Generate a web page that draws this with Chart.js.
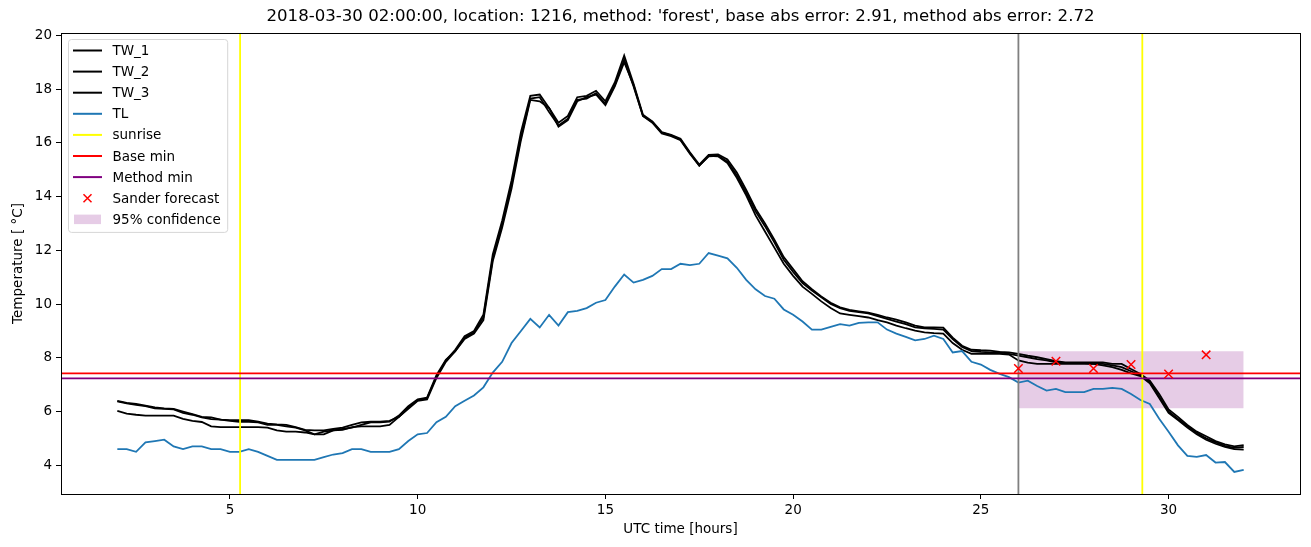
<!DOCTYPE html>
<html>
<head>
<meta charset="utf-8">
<script src="https://cdn.jsdelivr.net/npm/chart.js@4.4.1/dist/chart.umd.min.js"></script>
<style>
  html, body { margin: 0; padding: 0; background: #fff; }
  #wrap { width: 1311px; height: 547px; position: relative; }
</style>
</head>
<body>
<div id="wrap"><canvas id="grafico"></canvas></div>
<script>
// Tijdas: elk kwartier van 2 tot 32 uur UTC
const startUur = 2;
const stapUur = 0.25;
const aantal = 121;
const hours = Array.from({ length: aantal }, (_, i) => startUur + i * stapUur);

// Temperaturen, 4 waarden per uur
const tw1 = [
  6.4, 6.32, 6.28, 6.22,  6.15, 6.12, 6.1, 6.0,  5.9, 5.8, 5.78, 5.7,  5.68, 5.68, 5.68, 5.62,
  5.55, 5.52, 5.5, 5.42,  5.32, 5.3, 5.3, 5.35,  5.4, 5.5, 5.6, 5.62,  5.62, 5.65, 5.8, 6.15,
  6.42, 6.5, 7.3, 7.9,  8.3, 8.8, 9.0, 9.6,  11.85, 13.1, 14.6, 16.4,  17.75, 17.8, 17.3, 16.75,
  17.0, 17.7, 17.75, 17.94,  17.55, 18.25, 19.25, 18.2,  17.05, 16.8, 16.4, 16.3,  16.15, 15.65, 15.19, 15.55,
  15.57, 15.38, 14.9, 14.25,  13.55, 13.0, 12.4, 11.75,  11.3, 10.85, 10.55, 10.28,  10.05, 9.88, 9.78, 9.73,
  9.68, 9.6, 9.5, 9.42,  9.32, 9.2, 9.13, 9.13,  9.12, 8.75, 8.45, 8.3,  8.28, 8.27, 8.22, 8.2,
  8.15, 8.08, 8.02, 7.95,  7.88, 7.83, 7.83, 7.83,  7.83, 7.83, 7.77, 7.77,  7.58, 7.4, 7.15, 6.65,
  6.08, 5.8, 5.5, 5.25,  5.08, 4.9, 4.78, 4.7,  4.75
];
const tw2 = [
  6.38, 6.3, 6.25, 6.2,  6.12, 6.1, 6.08, 5.95,  5.88, 5.78, 5.72, 5.7,  5.65, 5.62, 5.62, 5.6,
  5.5, 5.5, 5.45, 5.4,  5.3, 5.15, 5.15, 5.3,  5.35, 5.4, 5.5, 5.6,  5.6, 5.62, 5.85, 6.2,
  6.45, 6.52, 7.35, 7.92,  8.25, 8.75, 8.95, 9.5,  11.7, 12.95, 14.45, 16.2,  17.65, 17.7, 17.15, 16.65,
  16.9, 17.6, 17.65, 17.85,  17.45, 18.15, 19.1, 18.1,  17.0, 16.75, 16.35, 16.25,  16.1, 15.6, 15.15, 15.5,
  15.52, 15.3, 14.8, 14.15,  13.45, 12.9, 12.3, 11.65,  11.2, 10.78, 10.5, 10.25,  10.0, 9.85, 9.75, 9.7,
  9.65, 9.55, 9.45, 9.35,  9.25, 9.13, 9.1, 9.08,  9.05, 8.7, 8.4, 8.25,  8.22, 8.2, 8.2, 8.15,
  8.08, 8.02, 7.95, 7.9,  7.83, 7.8, 7.8, 7.8,  7.77, 7.77, 7.72, 7.65,  7.5, 7.35, 7.1, 6.55,
  6.0, 5.72, 5.45, 5.2,  5.0, 4.85, 4.72, 4.65,  4.68
];
const tw3 = [
  6.02, 5.92, 5.88, 5.85,  5.85, 5.85, 5.85, 5.73,  5.65, 5.61, 5.45, 5.42,  5.42, 5.42, 5.42, 5.42,
  5.4, 5.3, 5.25, 5.25,  5.22, 5.15, 5.25, 5.3,  5.32, 5.42, 5.45, 5.45,  5.45, 5.5, 5.8, 6.1,
  6.4, 6.45, 7.25, 7.85,  8.25, 8.7, 8.9, 9.4,  11.6, 12.85, 14.3, 16.1,  17.6, 17.55, 17.3, 16.6,
  16.85, 17.55, 17.7, 17.8,  17.4, 18.1, 19.0, 18.15,  17.0, 16.78, 16.38, 16.28,  16.12, 15.62, 15.15, 15.52,
  15.5, 15.25, 14.7, 14.05,  13.3, 12.7, 12.1, 11.5,  11.05, 10.65, 10.38, 10.1,  9.85, 9.65, 9.6, 9.55,
  9.5, 9.4, 9.32, 9.2,  9.1, 9.01, 8.95, 8.92,  8.9, 8.55, 8.3, 8.15,  8.15, 8.15, 8.15, 8.12,
  7.9, 7.82, 7.77, 7.77,  7.77, 7.77, 7.77, 7.77,  7.77, 7.72, 7.65, 7.55,  7.42, 7.32, 7.05, 6.5,
  5.95, 5.68, 5.4, 5.15,  4.95, 4.8, 4.68, 4.6,  4.58
];
const tl = [
  4.6, 4.6, 4.5, 4.85,  4.9, 4.95, 4.7, 4.6,  4.7, 4.7, 4.6, 4.6,  4.5, 4.5, 4.6, 4.5,
  4.35, 4.2, 4.2, 4.2,  4.2, 4.2, 4.3, 4.4,  4.45, 4.6, 4.6, 4.5,  4.5, 4.5, 4.6, 4.9,
  5.15, 5.2, 5.6, 5.8,  6.2, 6.4, 6.6, 6.9,  7.45, 7.85, 8.55, 9.0,  9.45, 9.13, 9.6, 9.2,
  9.7, 9.75, 9.85, 10.05,  10.15, 10.65, 11.1, 10.8,  10.9, 11.05, 11.3, 11.3,  11.5, 11.45, 11.5, 11.9,
  11.8, 11.7, 11.35, 10.9,  10.55, 10.3, 10.2, 9.8,  9.6, 9.35, 9.05, 9.05,  9.15, 9.25, 9.2, 9.3,
  9.32, 9.32, 9.05, 8.9,  8.78, 8.65, 8.7, 8.82,  8.7, 8.2, 8.25, 7.85,  7.75, 7.55, 7.4, 7.28,
  7.08, 7.15, 6.95, 6.78,  6.84, 6.72, 6.72, 6.72,  6.84, 6.84, 6.88, 6.84,  6.65, 6.43, 6.28, 5.73,
  5.25, 4.74, 4.35, 4.31,  4.38, 4.1, 4.12, 3.75,  3.83
];

// Sander-voorspelling
const sanderUren = [26, 27, 28, 29, 30, 31];
const sanderWaarden = [7.6, 7.87, 7.6, 7.75, 7.4, 8.11];

// Overige kenmerken
const zonsopkomst = [5.27, 29.3];
const voorspelUur = 26;
const baseMin = 7.42;
const methodMin = 7.235;
const betrouwbaarheid = { van: 26, tot: 32, onder: 6.12, boven: 8.24 };

// As-instellingen
const xMin = 0.5, xMax = 33.5;
const yMin = 2.93, yMax = 20.09;
const xTicks = [5, 10, 15, 20, 25, 30];
const yTicks = [4, 6, 8, 10, 12, 14, 16, 18, 20];

const titel = "2018-03-30 02:00:00, location: 1216, method: 'forest', base abs error: 2.91, method abs error: 2.72";
const fontFam = "'DejaVu Sans', sans-serif";

const punten = (ys) => hours.map((h, i) => ({ x: h, y: ys[i] }));
const lijn = (label, data, color, order) => ({
  label, data, borderColor: color, backgroundColor: color,
  borderWidth: 1.8, pointRadius: 0, tension: 0, fill: false, order
});

const datasets = [
  lijn('TW_1', punten(tw1), '#000000', 9),
  lijn('TW_2', punten(tw2), '#000000', 8),
  lijn('TW_3', punten(tw3), '#000000', 7),
  lijn('TL', punten(tl), '#1f77b4', 6),
  lijn('sunrise', [{ x: zonsopkomst[0], y: yMin }, { x: zonsopkomst[0], y: yMax }], '#ffff00', 5),
  lijn('sunrise2', [{ x: zonsopkomst[1], y: yMin }, { x: zonsopkomst[1], y: yMax }], '#ffff00', 5),
  lijn('now', [{ x: voorspelUur, y: yMin }, { x: voorspelUur, y: yMax }], '#808080', 5),
  lijn('Base min', [{ x: xMin, y: baseMin }, { x: xMax, y: baseMin }], '#ff0000', 4),
  lijn('Method min', [{ x: xMin, y: methodMin }, { x: xMax, y: methodMin }], '#800080', 3),
  {
    label: 'Sander forecast',
    data: sanderUren.map((h, i) => ({ x: h, y: sanderWaarden[i] })),
    showLine: false, pointStyle: 'crossRot', pointRadius: 6, pointHoverRadius: 6,
    borderColor: '#ff0000', backgroundColor: '#ff0000', borderWidth: 1.5, order: 1
  },
  {
    label: '95% confidence',
    data: [{ x: betrouwbaarheid.van, y: betrouwbaarheid.boven }, { x: betrouwbaarheid.tot, y: betrouwbaarheid.boven }],
    borderWidth: 0, pointRadius: 0, borderColor: 'rgba(0,0,0,0)',
    backgroundColor: 'rgba(128,0,128,0.2)', fill: '+1', order: 20
  },
  {
    label: 'conf_onder',
    data: [{ x: betrouwbaarheid.van, y: betrouwbaarheid.onder }, { x: betrouwbaarheid.tot, y: betrouwbaarheid.onder }],
    borderWidth: 0, pointRadius: 0, borderColor: 'rgba(0,0,0,0)', fill: false, order: 21
  }
];

// Legenda-items (zoals in matplotlib)
const legendaItems = [
  { label: 'TW_1', type: 'line', color: '#000000' },
  { label: 'TW_2', type: 'line', color: '#000000' },
  { label: 'TW_3', type: 'line', color: '#000000' },
  { label: 'TL', type: 'line', color: '#1f77b4' },
  { label: 'sunrise', type: 'line', color: '#ffff00' },
  { label: 'Base min', type: 'line', color: '#ff0000' },
  { label: 'Method min', type: 'line', color: '#800080' },
  { label: 'Sander forecast', type: 'cross', color: '#ff0000' },
  { label: '95% confidence', type: 'patch', color: 'rgba(128,0,128,0.2)' }
];

// Plugin: kader, titels en legenda tekenen
const matplotlibStijl = {
  id: 'matplotlibStijl',
  afterDatasetsDraw(chart) {
    const { ctx, chartArea: a } = chart;
    ctx.save();
    ctx.strokeStyle = '#000';
    ctx.lineWidth = 1;
    ctx.strokeRect(Math.round(a.left) + 0.5, Math.round(a.top) + 0.5, Math.round(a.right - a.left), Math.round(a.bottom - a.top));

    // titel
    ctx.fillStyle = '#000';
    ctx.font = '16.6px ' + fontFam;
    ctx.textAlign = 'center';
    ctx.textBaseline = 'middle';
    ctx.fillText(titel, (a.left + a.right) / 2, 17);

    // as-titels
    ctx.font = '13.5px ' + fontFam;
    ctx.fillText('UTC time [hours]', (a.left + a.right) / 2, 529);
    ctx.save();
    ctx.translate(18, (a.top + a.bottom) / 2);
    ctx.rotate(-Math.PI / 2);
    ctx.fillText('Temperature [ °C]', 0, 0);
    ctx.restore();

    // legenda
    ctx.font = '13.5px ' + fontFam;
    let breedste = 0;
    legendaItems.forEach(it => { breedste = Math.max(breedste, ctx.measureText(it.label).width); });
    const bx = 68.5, by = 39.5, tekstX = 112.5, rij0 = 50.5, rijStap = 21.1;
    const bw = tekstX + breedste + 7 - bx;
    const bh = rijStap * legendaItems.length + 3;
    ctx.beginPath();
    ctx.roundRect(bx, by, bw, bh, 3);
    ctx.fillStyle = 'rgba(255,255,255,0.8)';
    ctx.fill();
    ctx.strokeStyle = '#d6d6d6';
    ctx.lineWidth = 1;
    ctx.stroke();

    legendaItems.forEach((it, i) => {
      const y = rij0 + i * rijStap;
      if (it.type === 'line') {
        ctx.strokeStyle = it.color;
        ctx.lineWidth = 2;
        ctx.beginPath();
        ctx.moveTo(73, y);
        ctx.lineTo(102, y);
        ctx.stroke();
      } else if (it.type === 'cross') {
        ctx.strokeStyle = it.color;
        ctx.lineWidth = 1.5;
        ctx.beginPath();
        ctx.moveTo(83.5, y - 4); ctx.lineTo(91.5, y + 4);
        ctx.moveTo(91.5, y - 4); ctx.lineTo(83.5, y + 4);
        ctx.stroke();
      } else {
        ctx.fillStyle = it.color;
        ctx.fillRect(74, y - 4.7, 27, 9.5);
      }
      ctx.fillStyle = '#000';
      ctx.textAlign = 'left';
      ctx.textBaseline = 'middle';
      ctx.fillText(it.label, tekstX, y + 1);
    });
    ctx.restore();
  }
};

const tickFont = { family: fontFam, size: 13.5 };

const ctx = document.getElementById('grafico').getContext('2d');
const chart = new Chart(ctx, {
  type: 'line',
  data: { datasets },
  options: {
    responsive: true,
    maintainAspectRatio: false,
    animation: false,
    layout: { padding: { top: 33, right: 11, left: 0, bottom: 0 } },
    plugins: {
      legend: { display: false },
      tooltip: { enabled: false },
      title: { display: false }
    },
    scales: {
      x: {
        type: 'linear',
        min: xMin,
        max: xMax,
        afterBuildTicks: s => { s.ticks = xTicks.map(v => ({ value: v })); },
        afterFit: s => { s.height = 53; },
        ticks: { font: tickFont, color: '#000', padding: 3, maxRotation: 0 },
        grid: { drawOnChartArea: false, drawTicks: true, tickLength: 5, color: '#000' },
        border: { display: false }
      },
      y: {
        type: 'linear',
        min: yMin,
        max: yMax,
        afterBuildTicks: s => { s.ticks = yTicks.map(v => ({ value: v })); },
        afterFit: s => { s.width = 61; },
        ticks: { font: tickFont, color: '#000', padding: 4 },
        grid: { drawOnChartArea: false, drawTicks: true, tickLength: 5, color: '#000' },
        border: { display: false }
      }
    }
  },
  plugins: [matplotlibStijl]
});
</script>
</body>
</html>
